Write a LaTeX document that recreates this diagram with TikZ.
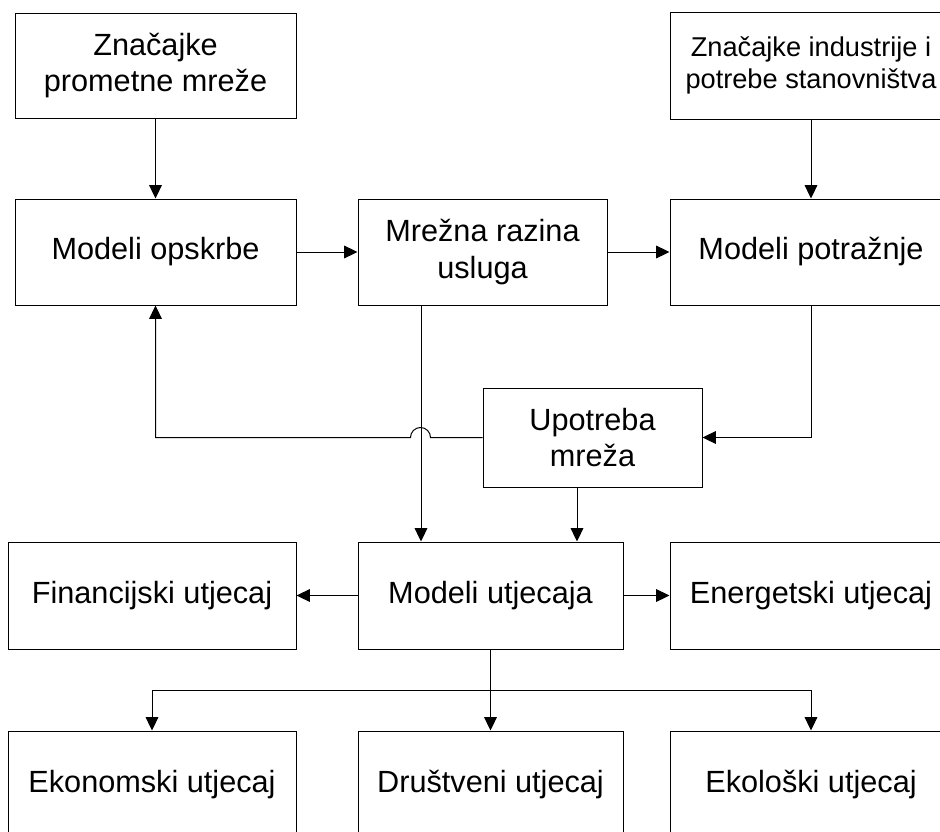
\documentclass[tikz,border=0pt]{standalone}
\usepackage{fontspec}
\setmainfont{Liberation Sans}
\usetikzlibrary{positioning,calc,arrows.meta}

\begin{document}
\begin{tikzpicture}[x=0.75pt,y=-0.75pt,
        box/.style={draw, line width=0.75pt, inner sep=0pt, align=center,
            font=\fontsize{23}{27.6}\selectfont},
        arr/.style={-{Triangle[length=10pt,width=9.5pt]}, line width=0.75pt}]
        \useasboundingbox (0,0) rectangle (940,832);
        \clip (0,0) rectangle (940,832);

        \node[box, minimum width=210.75pt, minimum height=78.75pt] (zpm) at (155.5, 65.5) {Značajke\\prometne mreže};
        \node[box, minimum width=211.5pt, minimum height=80.25pt, font=\fontsize{20.4}{24.6}\selectfont] (zis) at (811, 65.5) {Značajke industrije i\\potrebe stanovništva};

        \node[box, minimum width=210.75pt, minimum height=79.5pt] (opskrba) at (155.5, 252) {Modeli opskrbe};
        \node[box, minimum width=186.75pt, minimum height=79.5pt] (usluga) at (482.5, 252) {Mrežna razina\\usluga};
        \node[box, minimum width=211.5pt, minimum height=79.5pt] (potraznja) at (811, 252) {Modeli potražnje};

        \node[box, minimum width=164.25pt, minimum height=74.25pt] (upotreba) at (592.5, 437.5) {Upotreba\\mreža};

        \node[box, minimum width=216pt, minimum height=80.25pt] (fin) at (152, 595.5) {Financijski utjecaj};
        \node[box, minimum width=198.75pt, minimum height=80.25pt] (utjecaj) at (490.5, 595.5) {Modeli utjecaja};
        \node[box, minimum width=211.5pt, minimum height=80.25pt] (energ) at (811, 595.5) {Energetski utjecaj};

        \node[box, minimum width=216pt, minimum height=80.25pt] (ekon) at (152, 784.5) {Ekonomski utjecaj};
        \node[box, minimum width=198.75pt, minimum height=80.25pt] (drus) at (490.5, 784.5) {Društveni utjecaj};
        \node[box, minimum width=211.5pt, minimum height=80.25pt] (ekol) at (811, 784.5) {Ekološki utjecaj};

        \coordinate (ug) at ($(usluga.south)+(-61.5,0)$);
        \coordinate (pg) at ($(upotreba.south)+(-15.5,0)$);
        \coordinate (split) at ($(utjecaj.south)+(0,41)$);

        \draw[arr] (zpm.south) -- (opskrba.north);
        \draw[arr] (zis.south) -- (potraznja.north);
        \draw[arr] (opskrba.east) -- (usluga.west);
        \draw[arr] (usluga.east) -- (potraznja.west);
        \draw[arr] (potraznja.south) |- (upotreba.east);
        \draw[arr] (upotreba.west) -- ++(-52,0) arc[start angle=0, end angle=180, radius=7.5pt]
            -- (opskrba.south |- upotreba.west) -- (opskrba.south);
        \draw[arr] (ug) -- (ug |- utjecaj.north);
        \draw[arr] (pg) -- (pg |- utjecaj.north);
        \draw[arr] (utjecaj.west) -- (fin.east);
        \draw[arr] (utjecaj.east) -- (energ.west);
        \draw[arr] (utjecaj.south) -- (drus.north);
        \draw[arr] (split) -| (ekon.north);
        \draw[arr] (split) -| (ekol.north);
    \end{tikzpicture}
\end{document}
